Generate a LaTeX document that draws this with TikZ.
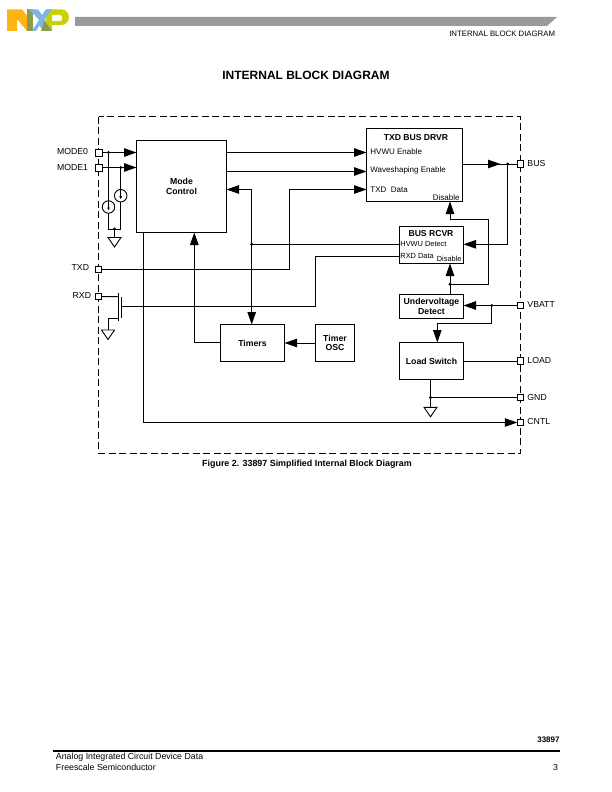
\documentclass[tikz,border=0pt]{standalone}
\usepackage{fontspec}
\setmainfont{Liberation Sans}
\usetikzlibrary{arrows.meta,calc}
\definecolor{barfill}{HTML}{9A9A9A}
\definecolor{nxporange}{HTML}{FDB515}
\definecolor{nxpblue}{HTML}{7FB5E0}
\definecolor{nxplime}{HTML}{C9D200}
\definecolor{nxpolive}{HTML}{8E9A4A}

\begin{document}
\begin{tikzpicture}[
  x=1pt,y=-1pt,
  line width=0.9pt,
  flow/.style={-{Triangle[length=12.5pt,width=8.5pt]}},
  block/.style={draw, fill=white, inner sep=0pt, outer sep=0pt, align=center, font=\fontsize{8.7}{9.5}\selectfont\bfseries},
  pad/.style={draw, fill=white, inner sep=0pt, outer sep=0pt, minimum size=#1},
  pad/.default=6.5pt,
  dotj/.style={circle, fill, inner sep=0pt, outer sep=0pt, minimum size=3.4pt},
  source/.style={draw, circle, inner sep=0pt, outer sep=0pt, minimum size=12.5pt},
  sig/.style={font=\fontsize{8.7}{10}\selectfont, inner sep=0pt},
  lbl/.style={font=\fontsize{8}{9}\selectfont, inner sep=0pt, anchor=west},
  lbls/.style={font=\fontsize{7.4}{9}\selectfont, inner sep=0pt, anchor=west},
  head/.style={font=\fontsize{8.6}{10}\selectfont\bfseries, inner sep=0pt},
  gndtri/.pic={\draw (-6.5,0) -- (6.5,0) -- (0,9.5) -- cycle;},
]
\useasboundingbox (0,0) rectangle (612,792);

% page header
\fill[nxporange] (7,9.3) -- (22,9.3) -- (33,23) -- (33,31) -- (27,31) -- (17,19) -- (17,31) -- (7,31) -- cycle;
\fill[nxpolive] (27,9.3) -- (33,9.3) -- (33,31) -- (27,31) -- cycle;
\fill[nxplime] (47,9.3) -- (61,9.3) .. controls (71.5,9.3) and (71.5,25) .. (61,25) -- (52,25) -- (52,31) -- (44,31) -- cycle;
\fill[white] (52,15) -- (60,15) .. controls (63,15) and (63,21) .. (60,21) -- (52,21) -- cycle;
\fill[nxpblue] (29,9.3) -- (38,9.3) -- (42,15) -- (46,9.3) -- (52,9.3) -- (44.5,19.5) -- (52,31) -- (43,31) -- (39.5,25.5) -- (36,31) -- (32,31) -- (39,20) -- cycle;
\fill[nxpolive] (44.5,21) -- (52,31) -- (41,31) -- cycle;
\fill[barfill] (75,17) -- (557,17) -- (547,26) -- (75,26) -- cycle;
\node[anchor=east, inner sep=0pt, font=\fontsize{7.8}{9}\selectfont] (pagehead) at (555.5,33.5) {INTERNAL BLOCK DIAGRAM};
\node[inner sep=0pt, font=\fontsize{12}{14}\selectfont\bfseries] (title) at (306,75) {INTERNAL BLOCK DIAGRAM};

% device outline
\draw[dash pattern=on 7pt off 3.5pt] (98.5,116.5) rectangle (520.5,453);

% blocks
\node[block, minimum width=90pt, minimum height=92pt] (mode) at (181.5,186.5) {Mode\\Control};
\node[block, minimum width=96pt, minimum height=73pt] (drvr) at (414.5,165) {};
\node[block, minimum width=64pt, minimum height=37pt] (rcvr) at (431.5,245) {};
\node[block, minimum width=64pt, minimum height=24pt] (uvd) at (431.5,306.5) {Undervoltage\\Detect};
\node[block, minimum width=64pt, minimum height=37pt] (lsw) at (431.5,361) {Load Switch};
\node[block, minimum width=64pt, minimum height=37pt] (tmr) at (252.5,343) {Timers};
\node[block, minimum width=39pt, minimum height=37pt] (osc) at (335,343) {Timer\\OSC};

% block contents
\node[head] (drvrname) at (416,137.5) {TXD BUS DRVR};
\node[lbl] (hvwue) at (370,151.5) {HVWU Enable};
\node[lbl] (wave) at (370,170.5) {Waveshaping Enable};
\node[lbl] (txdd) at (370,189.5) {TXD\ \ Data};
\node[lbl, anchor=east] (disd) at (460,197.5) {Disable};
\node[head] (rcvrname) at (431,233.5) {BUS RCVR};
\node[lbls] (hvwud) at (400,243.5) {HVWU Detect};
\node[lbls] (rxdd) at (400,255.5) {RXD Data};
\node[lbls, anchor=east] (disr) at (462,258.5) {Disable};

% pads
\node[pad=7pt] (p0) at (98.5,152.5) {};
\node[pad=7pt] (p1) at (98.5,167.5) {};
\node[pad] (ptxd) at (98.5,269.5) {};
\node[pad] (prxd) at (98.5,296.5) {};
\node[pad] (pbus) at (520.5,164) {};
\node[pad] (pbat) at (520.5,305.5) {};
\node[pad] (pload) at (520.5,361) {};
\node[pad] (pgnd) at (520.5,397.5) {};
\node[pad] (pcntl) at (520.5,422.5) {};
\node[sig, anchor=east] (lm0) at (88.5,152) {MODE0};
\node[sig, anchor=east] (lm1) at (88.5,167.5) {MODE1};
\node[sig, anchor=east] (ltxd) at (89.5,268) {TXD};
\node[sig, anchor=east] (lrxd) at (91.5,295.5) {RXD};
\node[sig, anchor=west] (lbus) at (527,163.5) {BUS};
\node[sig, anchor=west] (lbat) at (527,305) {VBATT};
\node[sig, anchor=west] (lload) at (527,360.5) {LOAD};
\node[sig, anchor=west] (lgnd) at (527,397.5) {GND};
\node[sig, anchor=west] (lcntl) at (527,421.5) {CNTL};

% mode inputs with pull-down sources
\coordinate (g0) at (114.5,237.5);
\draw[flow] (p0) -- (mode.west |- p0);
\draw[flow] (p1) -- (mode.west |- p1);
\node[source] (cs0) at (108.5,207) {};
\node[source] (cs1) at (120.7,195.7) {};
\draw (108.5,152.5) -- (cs0.north);
\draw (120.7,167.5) -- (cs1.north);
\draw (cs0.south) |- (114.5,229);
\draw (cs1.south) |- (114.5,229);
\draw (114.5,229) -- (g0);
\node[dotj] (j0) at (108.5,152.5) {};
\node[dotj] (j1) at (120.7,167.5) {};
\node[dotj] (jg) at (114.5,229) {};
\pic at (g0) {gndtri};
\draw[-{Latex[length=3pt,width=3pt]}] (cs0.north) -- ($(cs0)+(0,3.5)$);
\draw[-{Latex[length=3pt,width=3pt]}] (cs1.north) -- ($(cs1)+(0,3.5)$);

% mode control to driver
\draw[flow] (mode.east |- 0,152.5) -- (drvr.west |- 0,152.5);
\draw[flow] (mode.east |- 0,171.5) -- (drvr.west |- 0,171.5);
\coordinate (txdup) at (289.5,269.5);
\draw[flow] (ptxd) -- (txdup) |- (drvr.west |- 0,189.5);

% timers wiring
\coordinate (tbus) at (251.7,189.5);
\draw[flow] (tbus) -- (mode.east |- tbus);
\draw[flow] (tbus) -- (tbus |- tmr.north);
\draw (251.7,244.3) -- (rcvr.west |- 0,244.3);
\node[dotj] (jt) at (251.7,244.3) {};
\draw[flow] (194.3,342.5) -- (194.3,232.5);
\draw (194.3,342.5) -- (tmr.west |- 0,342.5);
\draw[flow] (osc) -- (tmr);

% receiver data to gate
\coordinate (rxup) at (315.5,256);
\coordinate (gate) at (121.3,306.3);
\draw (rcvr.west |- rxup) -- (rxup) |- (gate);
\draw (121.3,296.7) -- (121.3,317.5);
\draw (118,293.3) -- (118,321);
\draw (prxd) -- (118,296.7);
\coordinate (g1) at (108,330);
\draw (118,318.3) -| (g1);
\pic at (g1) {gndtri};

% bus side
\draw (494,164) -- (pbus);
\draw[flow] (drvr.east |- pbus) -- (500.5,164);
\draw[flow] (507.7,164) |- (rcvr.east |- 0,244.3);
\node[dotj] (jb) at (507.7,164) {};

% disable lines
\coordinate (dturn) at (488.3,219.3);
\draw[flow] (450,284.3) -| (dturn) -| (450,201.5);
\draw[flow] (uvd.north -| 450,0) -- (450,263.5);
\node[dotj] (jd) at (450,284.3) {};

% supply and ground
\coordinate (ldrop) at (437.3,323.3);
\draw[flow] (pbat) -- (uvd.east |- pbat);
\draw[flow] (491.7,305.5) |- (ldrop) -- (ldrop |- lsw.north);
\node[dotj] (jv) at (491.7,305.5) {};
\draw (lsw.east |- pload) -- (pload);
\coordinate (g2) at (430.5,407.3);
\draw (lsw.south -| g2) -- (g2);
\draw (g2 |- pgnd) -- (pgnd);
\node[dotj] (jgnd) at (430.5,397.5) {};
\pic at (g2) {gndtri};

% control output
\coordinate (cdown) at (143.3,422.5);
\draw[flow] (mode.south -| cdown) -- (cdown) -- (pcntl.west);

% caption and page footer
\node[inner sep=0pt, font=\fontsize{8.9}{10}\selectfont\bfseries] (caption) at (307,464.5) {Figure 2. 33897 Simplified Internal Block Diagram};
\node[anchor=east, inner sep=0pt, font=\fontsize{8}{10}\selectfont\bfseries] (partno) at (560,740) {33897};
\draw[line width=1.6pt] (53,751) coordinate (rulea) -- (560,751) coordinate (ruleb);
\node[anchor=west, inner sep=0pt, font=\fontsize{8.8}{10}\selectfont] (foota) at (55.5,757.5) {Analog Integrated Circuit Device Data};
\node[anchor=west, inner sep=0pt, font=\fontsize{8.8}{10}\selectfont] (footb) at (55.5,767.5) {Freescale Semiconductor};
\node[anchor=east, inner sep=0pt, font=\fontsize{8.8}{10}\selectfont] (pageno) at (558.5,767.5) {3};
\end{tikzpicture}
\end{document}
